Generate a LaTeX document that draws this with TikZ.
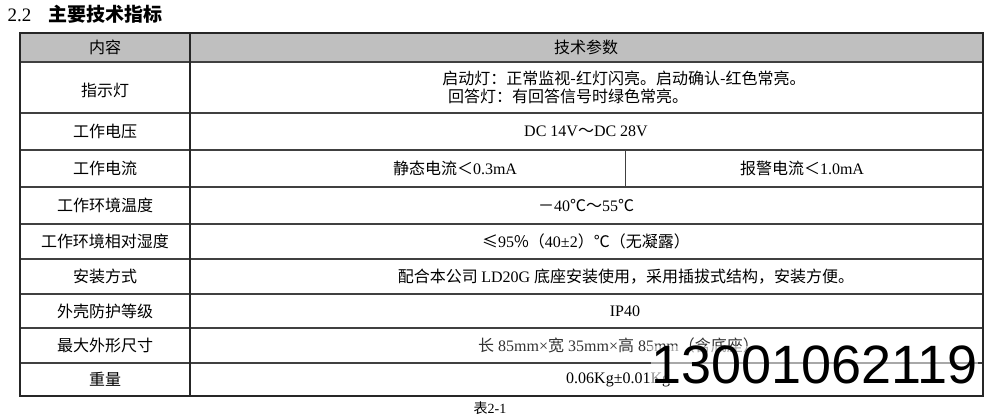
\documentclass[tikz,border=0pt]{standalone}
\usepackage{fontspec}
\setmainfont{Liberation Serif}
\newfontfamily\cjk{Noto Sans CJK SC}
\newfontfamily\wm{Liberation Sans}
\begin{document}
\begin{tikzpicture}[x=1pt,y=-1pt,
  cell/.style={inner sep=0pt,font=\fontsize{16}{19}\selectfont,align=center},
  grid/.style={line width=1.4pt,black!85}]
\useasboundingbox (0,0) rectangle (999,417);
\fill[gray!50] (20,33) rectangle (983,62);
\foreach \y in {62,113,150,187,224,259,294,328,363}{\draw[line width=1.2pt,black!75] (20,\y)--(983,\y);}
\draw[grid] (20,33) rectangle (983,396);
\draw[grid] (190,33)--(190,396);
\draw[line width=1pt,black!75] (625,150)--(625,187);
\node[anchor=west,font=\fontsize{19}{22}\selectfont] (title) at (4,14) {2.2\hspace{0.9em}{\cjk\bfseries 主要技术指标}};
\node[cell] (h1) at (105,47.5) {\cjk 内容};
\node[cell] (h2) at (586,47.5) {\cjk 技术参数};
\node[cell] (a1) at (105,90) {\cjk 指示灯};
\node[cell] (b1) at (624,87) {\cjk 启动灯：正常监视-红灯闪亮。启动确认-红色常亮。\\[-1pt]\hspace*{-7em}\cjk 回答灯：有回答信号时绿色常亮。};
\node[cell] (a2) at (105,131.5) {\cjk 工作电压};
\node[cell] (b2) at (586,131.5) {DC 14V{\cjk ～}DC 28V};
\node[cell] (a3) at (105,168.5) {\cjk 工作电流};
\node[cell] (b3) at (455,168.5) {{\cjk 静态电流＜}0.3mA};
\node[cell] (c3) at (802,168.5) {{\cjk 报警电流＜}1.0mA};
\node[cell] (a4) at (105,205.5) {\cjk 工作环境温度};
\node[cell] (b4) at (586,205.5) {{\cjk －}40{\cjk ℃～}55{\cjk ℃}};
\node[cell] (a5) at (105,241.5) {\cjk 工作环境相对湿度};
\node[cell] (b5) at (586,241.5) {{\cjk ≤}95{\cjk \%（}40±2{\cjk ）℃（无凝露）}};
\node[cell] (a6) at (105,276.5) {\cjk 安装方式};
\node[cell] (b6) at (626,276.5) {{\cjk 配合本公司 }LD20G {\cjk 底座安装使用，采用插拔式结构，安装方便。}};
\node[cell] (a7) at (105,311) {\cjk 外壳防护等级};
\node[cell] (b7) at (625,311) {IP40};
\node[cell] (a8) at (105,345.5) {\cjk 最大外形尺寸};
\node[cell,anchor=west,text=black!80] (b8) at (478,345.5) {{\cjk 长} 85mm×{\cjk 宽} 35mm×{\cjk 高} 85mm{\cjk （含底座）}};
\node[cell] (a9) at (105,379.5) {\cjk 重量};
\node[cell,anchor=west] (b9) at (566,379.5) {0.06Kg±0.01Kg};
\node[cell,font=\fontsize{14}{16}\selectfont] (cap) at (490,408) {{\cjk 表}2-1};
\node[anchor=east,inner sep=0pt,font=\wm\fontsize{54}{54}\selectfont,text=black,fill=white,fill opacity=0.55,text opacity=1] (wm) at (978,365) {13001062119};
\end{tikzpicture}
\end{document}
